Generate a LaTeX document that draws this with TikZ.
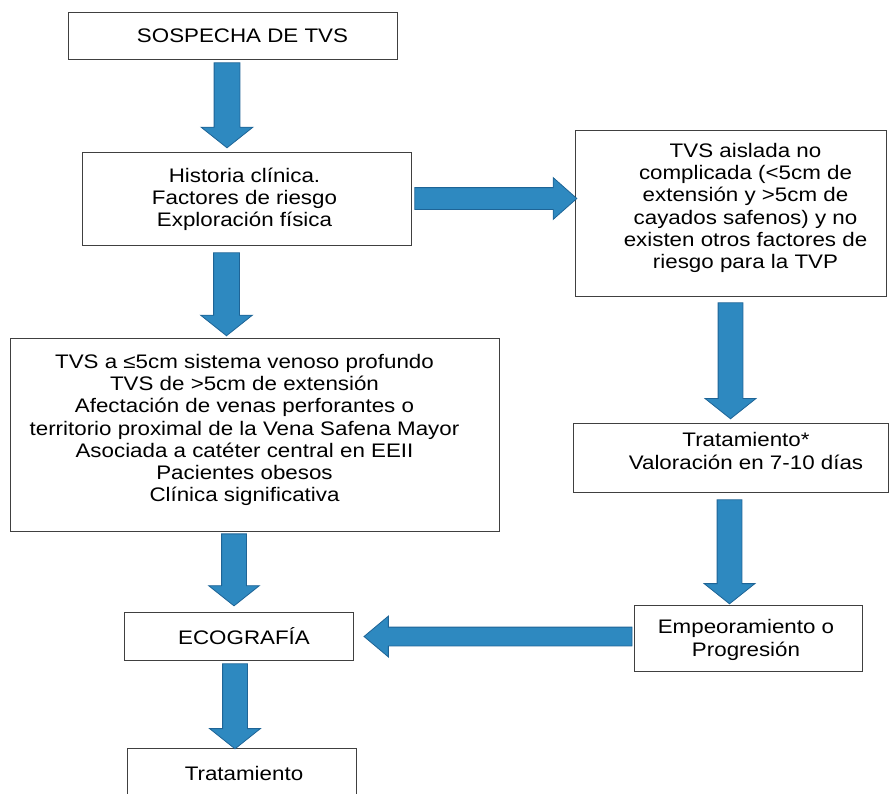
\documentclass[tikz,border=0pt]{standalone}
\usepackage{fontspec}
\setmainfont{Liberation Sans}[FakeStretch=1.14]
\usetikzlibrary{shapes.arrows}
\definecolor{arrowblue}{RGB}{46,137,192}
\definecolor{arrowedge}{RGB}{30,100,150}

\begin{document}
\begin{tikzpicture}[
    x=1pt, y=-1pt,
    box/.style={draw=black!75, line width=0.9pt, fill=white, inner sep=0pt},
    txt/.style={align=center, font=\fontsize{19.6}{22.3}\selectfont},
    blockarrow/.style={single arrow, draw=arrowedge, fill=arrowblue, line width=0.8pt, inner xsep=0pt, inner ysep=12.5pt, sloped, allow upside down, anchor=tail, single arrow tip angle=103, single arrow head extend=13pt},
]
    \useasboundingbox (0,0) rectangle (890,793);

    % Sospecha
    \node[box, minimum width=329pt, minimum height=47pt] (sosp) at (232.5,35.5) {};
    \node[txt] (sosp-t) at (242.5,36) {SOSPECHA DE TVS};

    % Historia clinica
    \node[box, minimum width=329pt, minimum height=93pt] (hist) at (246.5,198.5) {};
    \node[txt] (hist-t) at (244.5,199.5) {Historia clínica.\\Factores de riesgo\\Exploración física};

    % TVS aislada
    \node[box, minimum width=311pt, minimum height=166pt] (aisl) at (730.5,213) {};
    \node[txt] (aisl-t) at (745.5,208) {TVS aislada no\\complicada (<5cm de\\extensión y >5cm de\\cayados safenos) y no\\existen otros factores de\\riesgo para la TVP};

    % Criterios
    \node[box, minimum width=489pt, minimum height=193pt] (crit) at (254.5,434.5) {};
    \node[txt] (crit-t) at (244.5,430) {TVS a ≤5cm sistema venoso profundo\\TVS de >5cm de extensión\\Afectación de venas perforantes o\\territorio proximal de la Vena Safena Mayor\\Asociada a catéter central en EEII\\Pacientes obesos\\Clínica significativa};

    % Tratamiento y valoracion
    \node[box, minimum width=315pt, minimum height=69pt] (trat) at (730.5,457.5) {};
    \node[txt] (trat-t) at (746,451) {Tratamiento*\\Valoración en 7-10 días};

    % Ecografia
    \node[box, minimum width=229pt, minimum height=48pt] (eco) at (238.5,636) {};
    \node[txt] (eco-t) at (244,636) {ECOGRAFÍA};

    % Empeoramiento
    \node[box, minimum width=228pt, minimum height=66pt] (empe) at (748,638) {};
    \node[txt] (empe-t) at (746,640) {Empeoramiento o\\Progresión};

    % Tratamiento final
    \node[box, minimum width=229pt, minimum height=60pt] (tto) at (241.5,778) {};
    \node[txt] (tto-t) at (244,773) {Tratamiento};

    % Arrows
    \path ([xshift=-5.5pt]sosp.south) -- ([xshift=-19.5pt]hist.north) node[blockarrow, pos=0.032, minimum height=85pt] (a1) {};
    \path ([xshift=-20pt]hist.south) -- ([xshift=-28pt]crit.north) node[blockarrow, pos=0.075, minimum height=83pt] (a2) {};
    \path (hist.east) -- (hist.east -| aisl.west) node[blockarrow, pos=0.018, minimum height=162pt, inner ysep=10.5pt, single arrow head extend=10pt, single arrow tip angle=83] (a3) {};
    \path (aisl.south) -- (trat.north) node[blockarrow, pos=0.047, minimum height=116pt, inner ysep=12pt] (a4) {};
    \path ([xshift=-20.5pt]crit.south) -- ([xshift=-4.5pt]eco.north) node[blockarrow, pos=0.025, minimum height=72pt, inner ysep=12pt] (a5) {};
    \path ([xshift=-1pt]trat.south) -- ([xshift=-18.5pt]empe.north) node[blockarrow, pos=0.062, minimum height=104pt, inner ysep=12pt] (a6) {};
    \path ([yshift=1.5pt]empe.west) -- ([yshift=-0.5pt]eco.east) node[blockarrow, pos=0.004, minimum height=268pt, inner ysep=9pt, single arrow head extend=11pt, single arrow tip angle=80] (a7) {};
    \path ([xshift=-3.5pt]eco.south) -- ([xshift=-6.5pt]tto.north) node[blockarrow, pos=0.034, minimum height=85pt, inner ysep=12pt] (a8) {};
\end{tikzpicture}
\end{document}
